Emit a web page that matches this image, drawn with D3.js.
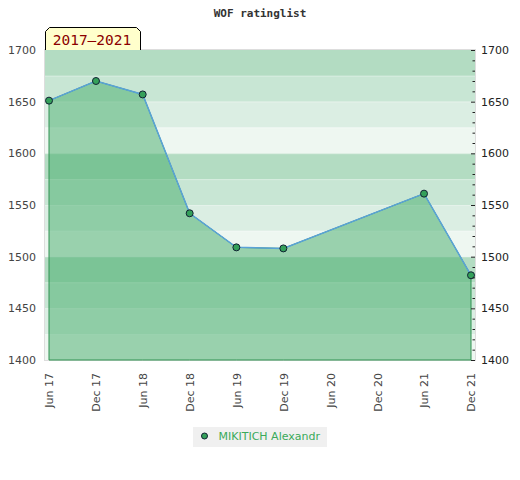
<!DOCTYPE html>
<html>
<head>
<meta charset="utf-8">
<script src="https://cdn.jsdelivr.net/npm/d3@7"></script>
<style>
  body { margin: 0; background: #fff; }
  svg { display: block; }
</style>
</head>
<body>
<svg id="chart" width="520" height="480"></svg>
<script>
// rating history
const months = ["2017-06", "2017-12", "2018-06", "2018-12", "2019-06", "2019-12", "2021-06", "2021-12"];
const ratings = [1651, 1670, 1657, 1542, 1509, 1508, 1561, 1482];
const tickMonths = ["2017-06", "2017-12", "2018-06", "2018-12", "2019-06", "2019-12", "2020-06", "2020-12", "2021-06", "2021-12"];
const yTicks = [1400, 1450, 1500, 1550, 1600, 1650, 1700];
const playerName = "MIKITICH Alexandr";
const periodLabel = "2017\u20132021";
const chartTitle = "WOF ratinglist";
const yDomain = [1400, 1700];

const parseMonth = d3.timeParse("%Y-%m");
const data = months.map((m, i) => ({date: parseMonth(m), rating: ratings[i]}));
const tickDates = tickMonths.map(parseMonth);

const svg = d3.select("#chart");
const plot = {left: 45, right: 475, top: 50, bottom: 360};
const bandColors = ["#b3dcc2", "#c8e6d4", "#dbeee3", "#eef7f1"];
const green = "#43ac6a";

const x = d3.scaleTime()
  .domain([tickDates[0], tickDates[tickDates.length - 1]])
  .range([49, 471]);
const y = d3.scaleLinear().domain(yDomain).range([plot.bottom, plot.top]);

// title
svg.append("text")
  .attr("x", 260).attr("y", 17)
  .attr("text-anchor", "middle")
  .attr("font-family", "DejaVu Sans Mono")
  .attr("font-weight", "bold")
  .attr("font-size", 11)
  .attr("fill", "#333")
  .text(chartTitle);

// stripes every 25 points
const bands = d3.range(yDomain[0], yDomain[1], 25);
svg.append("g").selectAll("rect")
  .data(bands)
  .enter().append("rect")
  .attr("x", plot.left)
  .attr("y", d => y(d + 25))
  .attr("width", plot.right - plot.left)
  .attr("height", d => y(d) - y(d + 25))
  .attr("fill", d => bandColors[((yDomain[1] - 25 - d) / 25) % 4]);

svg.append("g").selectAll("line")
  .data(bands.slice(1))
  .enter().append("line")
  .attr("x1", plot.left).attr("x2", plot.right)
  .attr("y1", d => y(d) + 0.5).attr("y2", d => y(d) + 0.5)
  .attr("stroke", "#fff").attr("stroke-opacity", 0.25);

// frame
svg.append("rect")
  .attr("x", plot.left - 0.5).attr("y", plot.top - 0.5)
  .attr("width", plot.right - plot.left + 1)
  .attr("height", plot.bottom - plot.top + 1)
  .attr("fill", "none").attr("stroke", "#ddd");

// area + line
const area = d3.area()
  .x(d => x(d.date))
  .y0(y(yDomain[0]))
  .y1(d => y(d.rating));
svg.append("path")
  .datum(data)
  .attr("d", area)
  .attr("fill", green).attr("fill-opacity", 0.5)
  .attr("stroke", "#2f9150").attr("stroke-width", 1);

svg.append("path")
  .datum(data)
  .attr("d", d3.line().x(d => x(d.date)).y(d => y(d.rating)))
  .attr("fill", "none")
  .attr("stroke", "#5aa2d8").attr("stroke-width", 1.5);

svg.append("g").selectAll("circle")
  .data(data)
  .enter().append("circle")
  .attr("cx", d => x(d.date))
  .attr("cy", d => y(d.rating))
  .attr("r", 3.5)
  .attr("fill", "#34a05a")
  .attr("stroke", "#123")
  .attr("stroke-width", 1);

// left axis
const leftAxis = svg.append("g")
  .attr("transform", `translate(${plot.left - 9},0)`)
  .call(d3.axisLeft(y).tickValues(yTicks).tickFormat(d3.format("d")).tickSize(0).tickPadding(0));
leftAxis.select(".domain").remove();
leftAxis.selectAll("text")
  .attr("font-family", "DejaVu Sans").attr("font-size", 11).attr("fill", "#444");

// right axis: minor ticks inside, labels outside
const rightTicks = svg.append("g").attr("transform", `translate(${plot.right},0)`);
rightTicks.selectAll("line")
  .data(d3.range(yDomain[0], yDomain[1] + 1, 10))
  .enter().append("line")
  .attr("x1", d => d % 50 === 0 ? -4 : -2.5).attr("x2", 0)
  .attr("y1", d => y(d) + 0.5).attr("y2", d => y(d) + 0.5)
  .attr("stroke", "#222");
const rightAxis = svg.append("g")
  .attr("transform", `translate(${plot.right + 6},0)`)
  .call(d3.axisRight(y).tickValues(yTicks).tickFormat(d3.format("d")).tickSize(0).tickPadding(0));
rightAxis.select(".domain").remove();
rightAxis.selectAll("text")
  .attr("font-family", "DejaVu Sans").attr("font-size", 11).attr("fill", "#222");

// bottom axis
const bottomAxis = svg.append("g")
  .attr("transform", `translate(0,${plot.bottom})`)
  .call(d3.axisBottom(x).tickValues(tickDates).tickFormat(d3.timeFormat("%b %y")).tickSize(0));
bottomAxis.select(".domain").remove();
bottomAxis.selectAll("text")
  .attr("font-family", "DejaVu Sans").attr("font-size", 11).attr("fill", "#444")
  .attr("text-anchor", "end")
  .attr("transform", "rotate(-90)")
  .attr("x", -13).attr("y", 0).attr("dy", "0.35em");

// period label
svg.append("path")
  .attr("d", "M45.5,50 L45.5,31.5 L49.5,27.5 L136.5,27.5 L140.5,31.5 L140.5,50")
  .attr("fill", "#ffffcc").attr("stroke", "#000");
svg.append("text")
  .attr("x", 92).attr("y", 45)
  .attr("text-anchor", "middle")
  .attr("font-family", "DejaVu Sans Mono")
  .attr("font-size", 14.5)
  .attr("fill", "#8b0000")
  .text(periodLabel);

// legend
const legend = svg.append("g");
legend.append("rect")
  .attr("x", 193).attr("y", 427).attr("width", 134).attr("height", 20)
  .attr("fill", "#f0f0f0");
legend.append("circle")
  .attr("cx", 204.5).attr("cy", 436).attr("r", 3)
  .attr("fill", "#34a05a").attr("stroke", "#123");
legend.append("text")
  .attr("x", 218.5).attr("y", 440)
  .attr("font-family", "DejaVu Sans").attr("font-size", 11)
  .attr("fill", "#3aaa5a")
  .text(playerName);
</script>
</body>
</html>
